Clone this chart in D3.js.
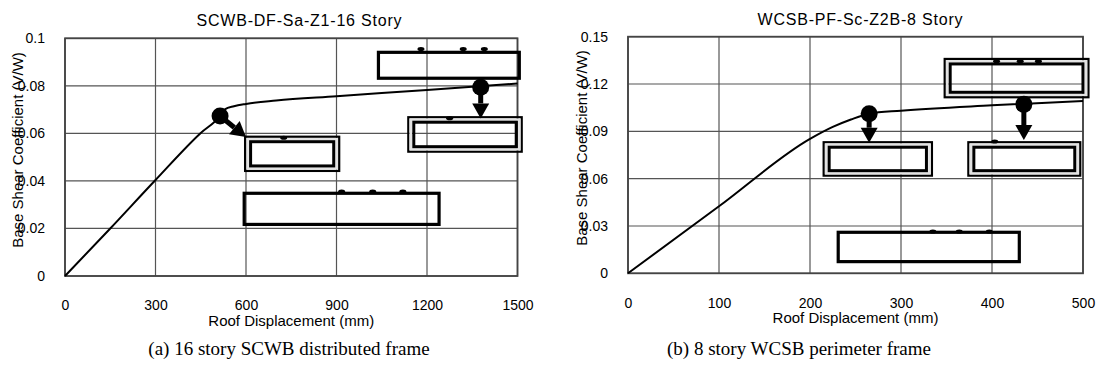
<!DOCTYPE html>
<html>
<head>
<meta charset="utf-8">
<script src="https://cdn.jsdelivr.net/npm/d3@7"></script>
<style>
  body { margin: 0; background: #fff; }
  svg { display: block; }
  .tick text { font-family: "Liberation Sans", Arial, sans-serif; font-size: 14px; fill: #000; }
</style>
</head>
<body>
<svg id="chart" width="1096" height="381"></svg>
<script>
// ---- data ----

// panel (a) SCWB-DF-Sa-Z1-16 Story
var titleA = 'SCWB-DF-Sa-Z1-16 Story';
var captionA = '(a) 16 story SCWB distributed frame';
var dispA = [0, 150, 300, 450, 514, 530, 560, 600, 700, 900, 1200, 1500];
var shearA = [0, 0.02, 0.0404, 0.0602, 0.0673, 0.0701, 0.0714, 0.0724, 0.0738, 0.0756, 0.0783, 0.081];
var xTicksA = [0, 300, 600, 900, 1200, 1500];
var yTicksA = [0, 0.02, 0.04, 0.06, 0.08, 0.1];
var yLabelsA = ['0', '0.02', '0.04', '0.06', '0.08', '0.1'];
var markersA = [[514, 0.0673], [1378, 0.0794]];
var arrowTipsA = [[600, 0.0585], [1378, 0.0663]];
// covered label boxes: [x0, x1, y0, y1] in data units
var singleBoxesA = [[1039, 1506, 0.0832, 0.0941], [594, 1240, 0.0217, 0.0348]];
var doubleBoxesA = [[597, 909, 0.0442, 0.0586], [1138, 1514, 0.0523, 0.0668]];
var blotsA = [[725, 0.0582], [1275, 0.0664], [917, 0.0355], [1020, 0.0355], [1120, 0.0355], [1180, 0.0955], [1320, 0.0955], [1390, 0.0955]];

// panel (b) WCSB-PF-Sc-Z2B-8 Story
var titleB = 'WCSB-PF-Sc-Z2B-8 Story';
var captionB = '(b) 8 story WCSB perimeter frame';
var dispB = [0, 100, 200, 225, 245, 265, 300, 400, 500];
var shearB = [0, 0.0425, 0.0852, 0.0928, 0.0975, 0.1012, 0.1031, 0.1065, 0.1092];
var xTicksB = [0, 100, 200, 300, 400, 500];
var yTicksB = [0, 0.03, 0.06, 0.09, 0.12, 0.15];
var yLabelsB = ['0', '0.03', '0.06', '0.09', '0.12', '0.15'];
var markersB = [[265, 0.1012], [435, 0.1071]];
var arrowTipsB = [[265, 0.0828], [435, 0.0845]];
var singleBoxesB = [[231, 430, 0.0074, 0.026]];
var doubleBoxesB = [[348, 506, 0.1116, 0.1359], [215, 334, 0.0619, 0.0831], [374, 497, 0.0619, 0.0831]];
var blotsB = [[335, 0.0265], [364, 0.0265], [397, 0.0265], [403, 0.0835], [405, 0.1345], [431, 0.1345], [451, 0.1345]];

var xLabel = 'Roof Displacement (mm)';
var yLabel = 'Base Shear Coefficient (V/W)';

// ---- drawing ----
var svg = d3.select('#chart');
var sans = '"Liberation Sans", Arial, sans-serif';

function drawPanel(p) {
    var x = d3.scaleLinear().domain(p.xDomain).range([p.left, p.right]);
    var y = d3.scaleLinear().domain(p.yDomain).range([p.bottom, p.top]);
    var g = svg.append('g');

    // grid
    g.append('g').selectAll('line.v')
        .data(p.xTicks)
        .enter().append('line')
        .attr('x1', function(d) { return x(d); })
        .attr('x2', function(d) { return x(d); })
        .attr('y1', p.top).attr('y2', p.bottom)
        .attr('stroke', '#555').attr('stroke-width', 1.2);

    g.append('g').selectAll('line.h')
        .data(p.yTicks)
        .enter().append('line')
        .attr('y1', function(d) { return y(d); })
        .attr('y2', function(d) { return y(d); })
        .attr('x1', p.left).attr('x2', p.right)
        .attr('stroke', '#555').attr('stroke-width', 1.2);

    // frame
    g.append('rect')
        .attr('x', p.left).attr('y', p.top)
        .attr('width', p.right - p.left).attr('height', p.bottom - p.top)
        .attr('fill', 'none').attr('stroke', '#444').attr('stroke-width', 1.8);

    // axes (labels only)
    var xAxis = g.append('g')
        .attr('transform', 'translate(0,' + p.bottom + ')')
        .call(d3.axisBottom(x).tickValues(p.xTicks).tickSize(0).tickPadding(p.xPad).tickFormat(d3.format('d')));
    xAxis.select('.domain').remove();

    var yAxis = g.append('g')
        .attr('transform', 'translate(' + p.left + ',0)')
        .call(d3.axisLeft(y).tickValues(p.yTicks).tickSize(0).tickPadding(20)
            .tickFormat(function(d, i) { return p.yLabels[i]; }));
    yAxis.select('.domain').remove();

    // titles
    g.append('text')
        .attr('x', p.titleX).attr('y', p.titleY)
        .attr('text-anchor', 'middle')
        .attr('textLength', 205).attr('lengthAdjust', 'spacing')
        .style('font-family', sans).style('font-size', '16px')
        .text(p.title);

    g.append('text')
        .attr('x', (p.left + p.right) / 2).attr('y', p.xLabelY)
        .attr('text-anchor', 'middle')
        .style('font-family', sans).style('font-size', '15px')
        .text(xLabel);

    g.append('text')
        .attr('transform', 'translate(' + p.yLabelX + ',' + p.yLabelY + ') rotate(-90)')
        .attr('text-anchor', 'middle')
        .style('font-family', sans).style('font-size', '15px')
        .text(yLabel);

    // pushover curve
    var line = d3.line()
        .x(function(d) { return x(d[0]); })
        .y(function(d) { return y(d[1]); })
        .curve(d3.curveMonotoneX);

    g.append('path')
        .datum(d3.zip(p.disp, p.shear))
        .attr('fill', 'none')
        .attr('stroke', '#000')
        .attr('stroke-width', 2)
        .attr('stroke-linejoin', 'round')
        .attr('d', line);

    // covered annotation boxes
    p.singleBoxes.forEach(function(b) {
        g.append('rect')
            .attr('x', x(b[0])).attr('y', y(b[3]))
            .attr('width', x(b[1]) - x(b[0])).attr('height', y(b[2]) - y(b[3]))
            .attr('fill', 'none').attr('stroke', '#000').attr('stroke-width', 3.2);
    });

    p.doubleBoxes.forEach(function(b) {
        var x0 = x(b[0]), x1 = x(b[1]), y0 = y(b[3]), y1 = y(b[2]);
        g.append('rect')
            .attr('x', x0).attr('y', y0)
            .attr('width', x1 - x0).attr('height', y1 - y0)
            .attr('fill', 'none').attr('stroke', '#000').attr('stroke-width', 2.2);
        g.append('rect')
            .attr('x', x0 + 2.5).attr('y', y0 + 2.5)
            .attr('width', x1 - x0 - 5).attr('height', y1 - y0 - 5)
            .attr('fill', 'none').attr('stroke', '#e2e2e2').attr('stroke-width', 2.5);
        g.append('rect')
            .attr('x', x0 + 5.5).attr('y', y0 + 5)
            .attr('width', x1 - x0 - 11).attr('height', y1 - y0 - 10)
            .attr('fill', 'none').attr('stroke', '#000').attr('stroke-width', 3);
    });

    // leftover bits of the covered text
    g.append('g').selectAll('ellipse')
        .data(p.blots)
        .enter().append('ellipse')
        .attr('cx', function(d) { return x(d[0]); })
        .attr('cy', function(d) { return y(d[1]); })
        .attr('rx', 3.5).attr('ry', 2)
        .attr('fill', '#000');

    // arrows from the markers
    p.markers.forEach(function(m, i) {
        var sx = x(m[0]), sy = y(m[1]);
        var tx = x(p.arrowTips[i][0]), ty = y(p.arrowTips[i][1]);
        var dx = tx - sx, dy = ty - sy;
        var len = Math.sqrt(dx * dx + dy * dy);
        var ux = dx / len, uy = dy / len;
        var headLen = 15, headHalf = 8.5;
        var bx = tx - ux * headLen, by = ty - uy * headLen;

        g.append('line')
            .attr('x1', sx).attr('y1', sy)
            .attr('x2', bx).attr('y2', by)
            .attr('stroke', '#000').attr('stroke-width', 5);

        g.append('path')
            .attr('d', 'M' + tx + ',' + ty +
                'L' + (bx - uy * headHalf) + ',' + (by + ux * headHalf) +
                'L' + (bx + uy * headHalf) + ',' + (by - ux * headHalf) + 'Z')
            .attr('fill', '#000');
    });

    g.append('g').selectAll('circle')
        .data(p.markers)
        .enter().append('circle')
        .attr('cx', function(d) { return x(d[0]); })
        .attr('cy', function(d) { return y(d[1]); })
        .attr('r', 8.5)
        .attr('fill', '#000');

    // caption below the panel
    svg.append('text')
        .attr('x', p.captionX).attr('y', 355)
        .attr('text-anchor', 'middle')
        .style('font-family', '"Liberation Serif", "Times New Roman", serif')
        .style('font-size', '19px')
        .text(p.caption);
}

drawPanel({
    title: titleA, caption: captionA,
    disp: dispA, shear: shearA,
    xDomain: [0, 1500], yDomain: [0, 0.1],
    xTicks: xTicksA, yTicks: yTicksA, yLabels: yLabelsA,
    markers: markersA, arrowTips: arrowTipsA,
    singleBoxes: singleBoxesA, doubleBoxes: doubleBoxesA, blots: blotsA,
    left: 65, right: 517.5, top: 38.3, bottom: 276,
    xPad: 24.5, titleX: 299, titleY: 26, xLabelY: 326,
    yLabelX: 23, yLabelY: 150, captionX: 289
});

drawPanel({
    title: titleB, caption: captionB,
    disp: dispB, shear: shearB,
    xDomain: [0, 500], yDomain: [0, 0.15],
    xTicks: xTicksB, yTicks: yTicksB, yLabels: yLabelsB,
    markers: markersB, arrowTips: arrowTipsB,
    singleBoxes: singleBoxesB, doubleBoxes: doubleBoxesB, blots: blotsB,
    left: 628, right: 1083, top: 36.7, bottom: 273.3,
    xPad: 24.3, titleX: 860, titleY: 25, xLabelY: 322.5,
    yLabelX: 587, yLabelY: 148, captionX: 799
});
</script>
</body>
</html>
